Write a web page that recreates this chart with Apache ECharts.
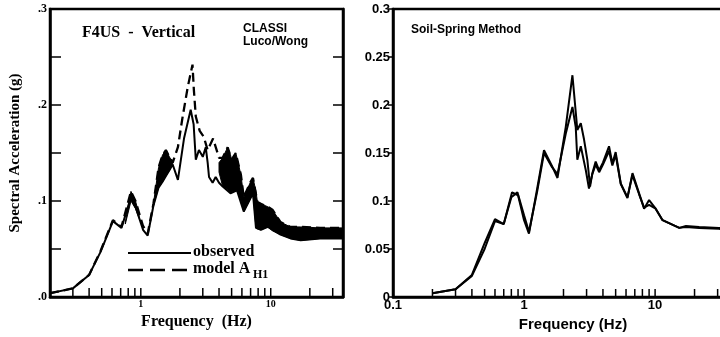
<!DOCTYPE html>
<html>
<head>
<meta charset="utf-8">
<script src="https://cdn.jsdelivr.net/npm/echarts@6/dist/echarts.min.js"></script>
<style>html,body{margin:0;padding:0;background:#fff;}#c{width:720px;height:337px;}</style>
</head>
<body>
<div id="c"></div>
<script>
// ---------- Left panel: F4US - Vertical (CLASSI Luco/Wong) ----------
const obsF = [0.2,0.3,0.4,0.49,0.61,0.71,0.84,0.91,1.04,1.13,1.25,1.37,1.47,1.56,1.66,1.76,1.93,2.15,2.42,2.55,2.65,2.8,3.0,3.16,3.27,3.35,3.57,3.77,4.0,4.27,4.9,5.5,6.2,7.0,7.3,7.7,8.4,9.5,11.9,14.2,17,24,36];
const obsA = [0.004,0.009,0.023,0.047,0.079,0.072,0.104,0.094,0.070,0.064,0.095,0.114,0.120,0.126,0.132,0.138,0.122,0.165,0.195,0.180,0.143,0.153,0.146,0.156,0.140,0.125,0.119,0.125,0.119,0.115,0.108,0.111,0.089,0.103,0.108,0.072,0.070,0.073,0.065,0.061,0.059,0.061,0.061];
const modelF = [0.2,0.3,0.4,0.49,0.61,0.71,0.84,0.91,1.04,1.13,1.25,1.37,1.47,1.56,1.66,1.76,1.93,2.1,2.3,2.5,2.56,2.65,2.84,3.05,3.27,3.6,4.0,4.27,4.66,5.0,5.38,5.9,6.2,7.0,7.3,7.9,8.4,9.5,10.3,11.9,14.2,17,24,36];
const modelA = [0.004,0.009,0.023,0.048,0.080,0.073,0.110,0.100,0.074,0.066,0.097,0.135,0.148,0.153,0.146,0.140,0.156,0.188,0.219,0.242,0.216,0.188,0.173,0.167,0.153,0.165,0.145,0.145,0.156,0.143,0.150,0.127,0.104,0.120,0.124,0.099,0.097,0.094,0.091,0.078,0.073,0.073,0.072,0.072];
// envelope (filled) regions between the curves
const band1F  = [0.76,0.84,0.91,0.97];
const band1Lo = [0.076,0.100,0.092,0.082];
const band1Hi = [0.078,0.110,0.100,0.086];
const band2F  = [1.25,1.37,1.47,1.56,1.66,1.76];
const band2Lo = [0.095,0.114,0.120,0.126,0.132,0.138];
const band2Hi = [0.097,0.135,0.148,0.153,0.146,0.140];
const band3F  = [4.0,4.27,4.66,4.9,5.0,5.38,5.5,5.9,6.2,7.0,7.3,7.7,7.9,8.4,9.5,10.3,11.9,14.2,17,24,36];
const band3Hi = [0.140,0.145,0.156,0.148,0.143,0.150,0.145,0.127,0.104,0.120,0.124,0.110,0.099,0.097,0.094,0.091,0.078,0.073,0.073,0.072,0.072];
const band3Lo = [0.130,0.115,0.112,0.108,0.109,0.111,0.111,0.100,0.089,0.103,0.108,0.072,0.071,0.070,0.073,0.069,0.065,0.061,0.059,0.061,0.061];
const leftTickF = [0.3,0.4,0.5,0.6,0.7,0.8,0.9,1,2,3,4,5,6,7,8,9,10,20,30];
const leftLabelF = [1,10];
const leftYLabels = {'0':'.0','0.1':'.1','0.2':'.2','0.3':'.3'};

// ---------- Right panel: Soil-Spring Method ----------
const rAF = [0.2,0.3,0.4,0.5,0.6,0.7,0.81,0.9,1.0,1.09,1.26,1.42,1.64,1.8,2.08,2.34,2.55,2.71,2.87,3.04,3.19,3.32,3.52,3.74,4.0,4.45,4.72,5.0,5.47,6.15,6.72,7.55,8.24,9.0,10.1,11.4,15.3,17.2,21.7,30.7,40];
const rAA = [0.004,0.008,0.023,0.056,0.081,0.076,0.109,0.106,0.080,0.066,0.113,0.153,0.136,0.124,0.177,0.231,0.174,0.181,0.164,0.143,0.115,0.129,0.141,0.132,0.140,0.157,0.139,0.151,0.118,0.103,0.129,0.108,0.092,0.101,0.092,0.080,0.072,0.074,0.073,0.072,0.071];
const rBF = [0.2,0.3,0.4,0.5,0.6,0.7,0.8,0.89,1.0,1.09,1.26,1.42,1.64,1.8,2.08,2.34,2.48,2.55,2.71,2.96,3.13,3.32,3.52,3.74,4.0,4.45,4.72,5.0,5.47,6.15,6.72,7.55,8.24,9.0,10.1,11.4,15.3,17.2,21.7,30.7,40];
const rBA = [0.004,0.008,0.022,0.050,0.079,0.076,0.104,0.109,0.085,0.068,0.110,0.150,0.135,0.128,0.170,0.198,0.177,0.143,0.157,0.132,0.113,0.128,0.138,0.130,0.138,0.152,0.137,0.148,0.118,0.104,0.127,0.107,0.093,0.096,0.092,0.080,0.072,0.073,0.072,0.071,0.070];
const rightTickF = [0.2,0.3,0.4,0.5,0.6,0.7,0.8,0.9,1,2,3,4,5,6,7,8,9,10,20,30];
const rightLabelF = [0.1,1,10];
const rightYLabels = {'0':'0','0.05':'0.05','0.1':'0.1','0.15':'0.15','0.2':'0.2','0.25':'0.25','0.3':'0.3'};

const zip = (xs, ys) => xs.map((x, i) => [x, ys[i]]);
const bands = [[band1F, band1Lo, band1Hi],[band2F, band2Lo, band2Hi],[band3F, band3Lo, band3Hi]];
const SERIF = '"Liberation Serif", "DejaVu Serif", serif';
const SANS = '"Liberation Sans", Arial, sans-serif';
const yKey = v => String(Math.round(v * 100) / 100);
const inList = (list, v) => list.some(t => Math.abs(t - v) / t < 1e-6);

// minor/major tick marks on a log axis, placed through the axis scale
function tickSeries(xi, yi, ticks, len) {
  return {type: 'custom', xAxisIndex: xi, yAxisIndex: yi, silent: true, clip: false,
    data: ticks.map(f => [f, 0]),
    renderItem: (params, api) => {
      const p = api.coord([api.value(0), 0]);
      return {type: 'line', shape: {x1: p[0], y1: p[1], x2: p[0], y2: p[1] - len},
              style: {stroke: '#000', lineWidth: 1.5}};
    }};
}

const chart = echarts.init(document.getElementById('c'), null, {renderer: 'canvas'});
chart.setOption({
  animation: false,
  backgroundColor: '#fff',
  grid: [
    {left: 50, top: 9, width: 293, height: 288, show: true, borderColor: '#000', borderWidth: 2.5, backgroundColor: 'transparent', containLabel: false, outerBoundsMode: 'none'},
    {left: 393, top: 9, width: 341, height: 288, show: true, borderColor: '#000', borderWidth: 2.5, backgroundColor: 'transparent', containLabel: false, outerBoundsMode: 'none'}
  ],
  xAxis: [
    {type: 'log', gridIndex: 0, min: 0.2, max: 36, logBase: 10,
     axisLine: {lineStyle: {color: '#000', width: 2.5}},
     axisTick: {show: false},
     axisLabel: {formatter: v => inList(leftLabelF, v) ? String(v) : '', color: '#000', fontFamily: SERIF, fontWeight: 'bold', fontSize: 10, margin: 2},
     splitLine: {show: false}, minorTick: {show: false},
     name: 'Frequency  (Hz)', nameLocation: 'middle', nameGap: 14,
     nameTextStyle: {color: '#000', fontFamily: SERIF, fontWeight: 'bold', fontSize: 16}},
    {type: 'log', gridIndex: 1, min: 0.1, max: 40, logBase: 10,
     axisLine: {lineStyle: {color: '#000', width: 2.5}},
     axisTick: {show: false},
     axisLabel: {formatter: v => inList(rightLabelF, v) ? String(v) : '', color: '#000', fontFamily: SANS, fontWeight: 'bold', fontSize: 13, margin: 2},
     splitLine: {show: false}, minorTick: {show: false},
     name: 'Frequency (Hz)', nameLocation: 'start', nameGap: -180,
     nameTextStyle: {color: '#000', fontFamily: SANS, fontWeight: 'bold', fontSize: 15, align: 'center', verticalAlign: 'top', padding: [20, 0, 0, 0]}}
  ],
  yAxis: [
    {type: 'value', gridIndex: 0, min: 0, max: 0.3, interval: 0.05, position: 'left',
     axisLine: {show: true, lineStyle: {color: '#000', width: 2.5}},
     axisTick: {show: true, inside: true, length: 11, lineStyle: {color: '#000', width: 1.5}},
     axisLabel: {formatter: v => leftYLabels[yKey(v)] || '', color: '#000', fontFamily: SERIF, fontWeight: 'bold', fontSize: 12, margin: 3},
     splitLine: {show: false},
     name: 'Spectral Acceleration (g)', nameLocation: 'middle', nameGap: 27, nameRotate: 90,
     nameTextStyle: {color: '#000', fontFamily: SERIF, fontWeight: 'bold', fontSize: 15}},
    {type: 'value', gridIndex: 0, min: 0, max: 0.3, interval: 0.05, position: 'right',
     axisLine: {show: true, lineStyle: {color: '#000', width: 2.5}},
     axisTick: {show: true, inside: true, length: 10, lineStyle: {color: '#000', width: 1.5}},
     axisLabel: {show: false}, splitLine: {show: false}},
    {type: 'value', gridIndex: 1, min: 0, max: 0.3, interval: 0.05,
     axisLine: {show: true, lineStyle: {color: '#000', width: 2.5}},
     axisTick: {show: true, inside: false, length: 5, lineStyle: {color: '#000', width: 1.5}},
     axisLabel: {formatter: v => rightYLabels[yKey(v)] || '', color: '#000', fontFamily: SANS, fontWeight: 'bold', fontSize: 13, margin: 3},
     splitLine: {show: false}}
  ],
  series: [
    tickSeries(0, 0, leftTickF, 9),
    tickSeries(1, 2, rightTickF, 8),
    {type: 'custom', name: 'envelope', xAxisIndex: 0, yAxisIndex: 0, silent: true,
     data: bands.map(b => [b[0][0], b[1][0]]),
     renderItem: (params, api) => {
       const b = bands[params.dataIndex];
       const pts = [];
       b[0].forEach((f, i) => pts.push(api.coord([f, b[2][i]])));
       for (let i = b[0].length - 1; i >= 0; i--) pts.push(api.coord([b[0][i], b[1][i]]));
       return {type: 'polygon', shape: {points: pts}, style: {fill: '#000', stroke: '#000', lineWidth: 1}};
     }},
    {type: 'line', name: 'observed', xAxisIndex: 0, yAxisIndex: 0, data: zip(obsF, obsA),
     showSymbol: false, lineStyle: {color: '#000', width: 2}},
    {type: 'line', name: 'model AH1', xAxisIndex: 0, yAxisIndex: 0, data: zip(modelF, modelA),
     showSymbol: false, lineStyle: {color: '#000', width: 2.3, type: [9, 5]}},
    {type: 'line', name: 'Soil-spring A', xAxisIndex: 1, yAxisIndex: 2, data: zip(rAF, rAA),
     showSymbol: false, lineStyle: {color: '#000', width: 2}},
    {type: 'line', name: 'Soil-spring B', xAxisIndex: 1, yAxisIndex: 2, data: zip(rBF, rBA),
     showSymbol: false, lineStyle: {color: '#000', width: 2}}
  ],
  graphic: [
    {type: 'text', left: 82, top: 25, style: {text: 'F4US  -  Vertical', fill: '#000', font: 'bold 16px ' + SERIF}},
    {type: 'text', left: 243, top: 23, style: {text: 'CLASSI', fill: '#000', font: 'bold 12px ' + SANS}},
    {type: 'text', left: 243, top: 36, style: {text: 'Luco/Wong', fill: '#000', font: 'bold 12px ' + SANS}},
    {type: 'line', shape: {x1: 128, y1: 253, x2: 191, y2: 253}, style: {stroke: '#000', lineWidth: 2}},
    {type: 'text', left: 193, top: 244, style: {text: 'observed', fill: '#000', font: 'bold 16px ' + SERIF}},
    {type: 'line', shape: {x1: 128, y1: 270, x2: 191, y2: 270}, style: {stroke: '#000', lineWidth: 2.3, lineDash: [15, 7]}},
    {type: 'text', left: 193, top: 261, style: {text: 'model A', fill: '#000', font: 'bold 16px ' + SERIF}},
    {type: 'text', left: 253, top: 269, style: {text: 'H1', fill: '#000', font: 'bold 12px ' + SERIF}},
    {type: 'text', left: 411, top: 24, style: {text: 'Soil-Spring Method', fill: '#000', font: 'bold 12px ' + SANS}}
  ]
});
</script>
</body>
</html>
